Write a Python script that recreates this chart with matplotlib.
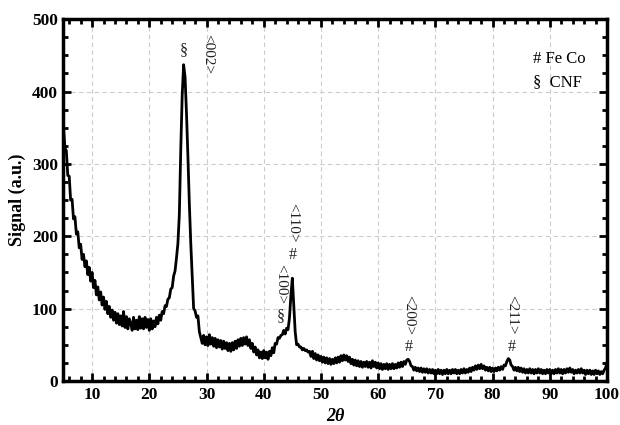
import numpy as np
import matplotlib.pyplot as plt
from matplotlib.ticker import MultipleLocator

# XRD scan, 2theta from 5 to 100 deg in 0.25 deg steps
signal = [
    350, 322, 318, 284, 283, 250, 251, 224, 227, 203, 206, 184, 189, 168, 175, 158, 166, 147, 157, 138,
    150, 129, 139, 119, 130, 112, 123, 105, 116, 99, 110, 93, 103, 88, 98, 84, 95, 80, 93, 78,
    90, 76, 96, 74, 89, 72, 86, 80, 70, 88, 72, 84, 71, 89, 73, 86, 72, 88, 74, 85,
    70, 86, 72, 83, 75, 88, 79, 91, 84, 96, 93, 104, 103, 113, 115, 127, 129, 145, 152, 170,
    190, 230, 320, 395, 437, 420, 370, 310, 245, 190, 145, 100, 97, 88, 90, 68, 60, 52, 63, 50,
    61, 49, 64, 51, 60, 48, 59, 46, 57, 47, 56, 44, 55, 45, 53, 42, 52, 41, 53, 43,
    55, 45, 57, 48, 59, 49, 60, 51, 61, 49, 57, 45, 52, 40, 47, 36, 43, 32, 40, 31,
    42, 32, 40, 30, 41, 35, 46, 39, 52, 51, 60, 59, 63, 64, 70, 65, 73, 71, 87, 118,
    142, 105, 68, 50, 51, 47, 47, 43, 45, 42, 43, 40, 41, 34, 41, 31, 38, 29, 36, 28,
    34, 26, 33, 25, 32, 24, 31, 23, 30, 24, 32, 25, 33, 26, 35, 28, 36, 29, 35, 27,
    33, 24, 30, 22, 29, 21, 28, 20, 27, 19, 26, 20, 27, 19, 26, 18, 28, 20, 26, 18,
    25, 17, 24, 16, 23, 17, 24, 16, 23, 17, 24, 17, 23, 18, 25, 19, 26, 20, 27, 23,
    29, 30, 27, 21, 20, 15, 19, 14, 18, 13, 18, 12, 17, 12, 17, 11, 16, 11, 16, 10,
    15, 10, 16, 10, 15, 9, 15, 10, 16, 10, 15, 10, 16, 11, 16, 10, 15, 10, 16, 11,
    17, 11, 16, 12, 18, 13, 19, 15, 21, 16, 22, 17, 23, 17, 21, 15, 19, 14, 19, 13,
    18, 13, 18, 14, 19, 15, 20, 16, 22, 21, 27, 31, 29, 22, 20, 15, 19, 14, 19, 13,
    18, 12, 17, 11, 16, 11, 17, 11, 16, 10, 16, 11, 17, 11, 16, 10, 15, 10, 16, 11,
    16, 10, 15, 10, 16, 11, 17, 11, 16, 10, 16, 11, 17, 12, 18, 12, 16, 10, 15, 11,
    16, 11, 17, 11, 15, 9, 15, 10, 15, 9, 14, 9, 15, 10, 14, 9, 13, 10, 15, 18,
    25,
]
two_theta = np.linspace(5, 100, len(signal))

# peak labels: (2theta, y, text, rotated?)
labels = [
    (26.1, 457, '§', False),
    (30.3, 452, '<002>', True),
    (45.1, 174, '#', False),
    (45.1, 218, '<110>', True),
    (42.9, 90, '§', False),
    (43.0, 134, '<100>', True),
    (65.4, 47, '#', False),
    (65.4, 91, '<200>', True),
    (83.3, 47, '#', False),
    (83.3, 91, '<211>', True),
]
legend_lines = ['# Fe Co', '§  CNF']

serif = 'Liberation Serif'
fig = plt.figure(figsize=(6.2, 4.25), dpi=100)
ax = fig.add_axes([0.1024, 0.1035, 0.8766, 0.8515])

ax.plot(two_theta, signal, color='black', lw=2.0)

ax.set_xlim(5, 100)
ax.set_ylim(0, 500)
ax.xaxis.set_major_locator(MultipleLocator(10))
ax.xaxis.set_minor_locator(MultipleLocator(2))
ax.yaxis.set_major_locator(MultipleLocator(100))
ax.yaxis.set_minor_locator(MultipleLocator(25))
ax.tick_params(which='both', direction='in', top=True, right=True, width=2)
ax.tick_params(which='major', length=6, labelsize=12.5, pad=4)
ax.tick_params(which='minor', length=3.5)
for lab in ax.get_xticklabels() + ax.get_yticklabels():
    lab.set_fontfamily(serif)
    lab.set_fontweight('bold')
for sp in ax.spines.values():
    sp.set_linewidth(2.5)

ax.grid(True, which='major', ls=(0, (4, 3)), color='#cccccc', lw=0.8)
ax.set_axisbelow(True)

ax.set_ylabel('Signal (a.u.)', family=serif, weight='bold', fontsize=13, labelpad=4)
ax.set_xlabel('2θ', family=serif, weight='bold', style='italic', fontsize=13, labelpad=4)

for x, y, t, rot in labels:
    ax.text(x, y, t, family=serif, fontsize=11 if rot else 11.5, rotation=270 if rot else 0,
            ha='center', va='center', color='#222222')

ax.text(87.0, 445, legend_lines[0], family=serif, fontsize=12, va='center', ha='left')
ax.text(87.0, 413, legend_lines[1], family=serif, fontsize=12, va='center', ha='left')

fig.savefig('out.png', dpi=100)
